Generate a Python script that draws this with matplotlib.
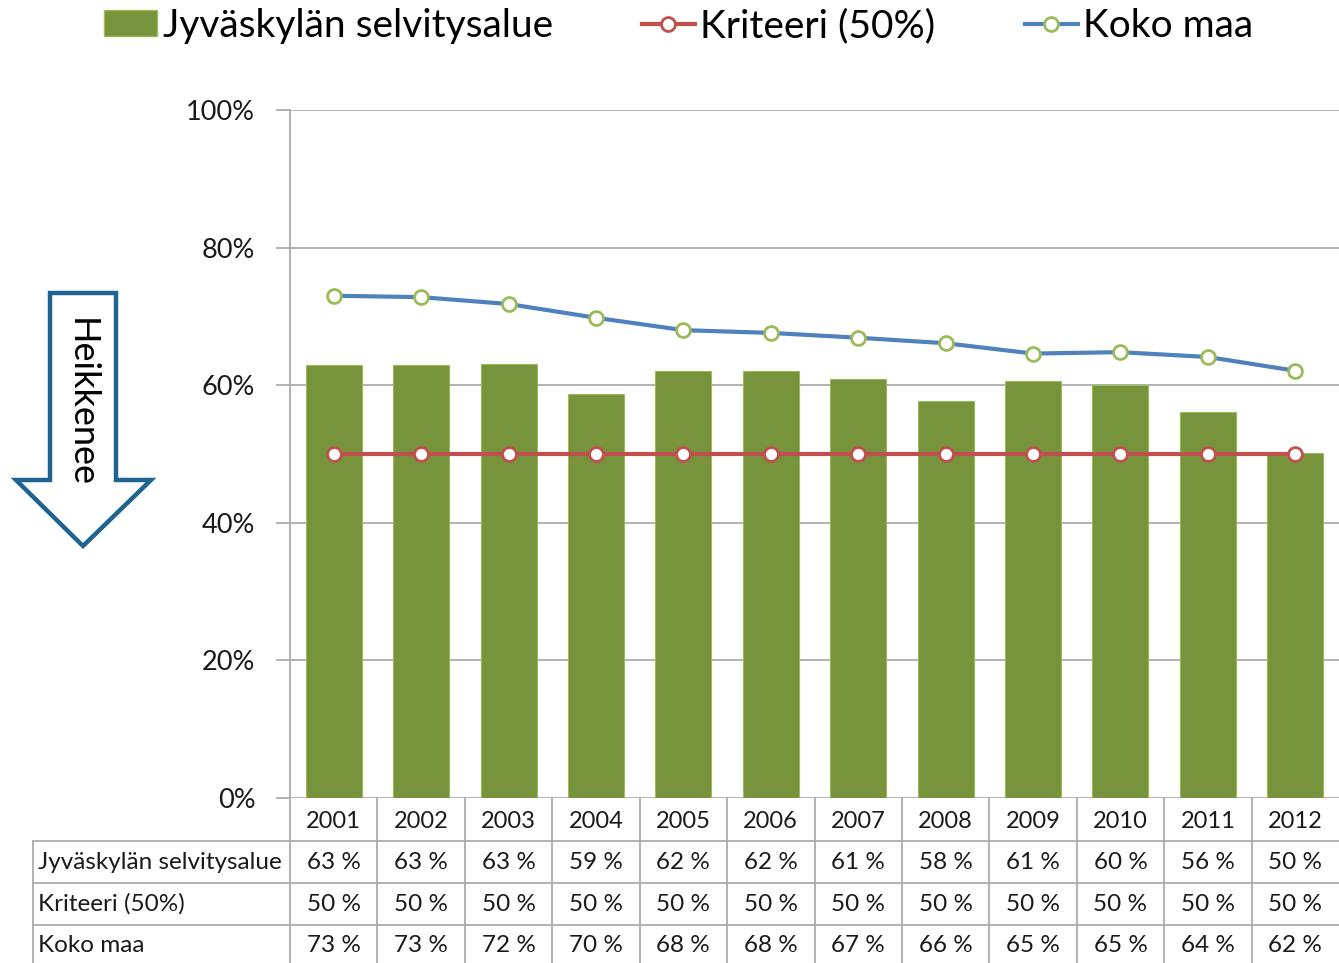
import matplotlib.pyplot as plt
import matplotlib
from matplotlib.patches import Polygon
from matplotlib.lines import Line2D
from matplotlib.transforms import blended_transform_factory
import numpy as np

matplotlib.rcParams['font.family'] = ['Lato', 'DejaVu Sans']

# data
years = ['2001', '2002', '2003', '2004', '2005', '2006',
         '2007', '2008', '2009', '2010', '2011', '2012']
jyvaskyla = [62.9, 62.9, 63.1, 58.7, 62.1, 62.1, 60.9, 57.7, 60.6, 60.0, 56.1, 50.1]
kriteeri = [50.0] * 12
koko_maa = [73.0, 72.8, 71.8, 69.8, 68.0, 67.6, 66.9, 66.1, 64.6, 64.8, 64.1, 62.1]
series_names = ['Jyväskylän selvitysalue', 'Kriteeri (50%)', 'Koko maa']

GREEN = '#77933C'
RED = '#C0504D'
BLUE = '#4F81BD'
LGREEN = '#9BBB59'
GRID = '#A6A6A6'
TXT = '#1a1a1a'

W, H = 1339, 963
fig = plt.figure(figsize=(W / 100, H / 100), dpi=100)
ax = fig.add_axes([290 / W, (H - 798) / H, (1339 - 290) / W, (798 - 110) / H])

x = np.arange(len(years))
ax.bar(x, jyvaskyla, width=0.64, color=GREEN, edgecolor=LGREEN, linewidth=0.8, zorder=2)
ax.plot(x, kriteeri, color=RED, lw=3, marker='o', ms=10, mfc='white', mec=RED, mew=2, zorder=3)
ax.plot(x, koko_maa, color=BLUE, lw=3, marker='o', ms=10, mfc='white', mec=LGREEN, mew=2, zorder=3)

ax.set_xlim(-0.5, len(years) - 0.5)
ax.set_ylim(0, 100)
ax.set_yticks(np.arange(0, 101, 20))
ax.set_yticklabels([f'{v}%' for v in range(0, 101, 20)], fontsize=19.5, color=TXT)
ax.tick_params(axis='y', length=10, color=GRID, width=1.2, pad=15)
ax.set_xticks([])
ax.grid(axis='y', color=GRID, lw=1.2, zorder=0)
ax.set_axisbelow(True)
for s in ['top', 'right', 'bottom']:
    ax.spines[s].set_visible(False)
ax.spines['left'].set_color(GRID)
ax.spines['left'].set_linewidth(1.2)

# data table under the chart
tr = blended_transform_factory(ax.transData, fig.transFigure)
fy = lambda p: (H - p) / H
left_x = 33 / W
for py in [841, 883, 925]:
    fig.add_artist(Line2D([left_x, 1.0], [fy(py)] * 2, color=GRID, lw=1.2))
fig.add_artist(Line2D([left_x, left_x], [fy(841), 0], color=GRID, lw=1.2))
fig.add_artist(Line2D([290 / W, 290 / W], [fy(798), 0], color=GRID, lw=1.2))
for i in range(1, len(years)):
    fig.add_artist(Line2D([i - 0.5, i - 0.5], [fy(798), 0], color=GRID, lw=1.2, transform=tr))

for i, yr in enumerate(years):
    fig.text(i, fy(821), yr, transform=tr, ha='center', va='center', fontsize=17, color=TXT)
rows = [jyvaskyla, kriteeri, koko_maa]
centers = [862, 904, 945]
for name, vals, cy in zip(series_names, rows, centers):
    fig.text(38 / W, fy(cy), name, ha='left', va='center', fontsize=17.5, color=TXT)
    for i, v in enumerate(vals):
        fig.text(i, fy(cy), f'{round(v)} %', transform=tr, ha='center', va='center',
                 fontsize=17.5, color=TXT)

# legend
handles = [
    plt.Rectangle((0, 0), 1, 1, facecolor=GREEN, edgecolor=LGREEN),
    Line2D([], [], color=RED, lw=3, marker='o', ms=10, mfc='white', mec=RED, mew=2),
    Line2D([], [], color=BLUE, lw=3, marker='o', ms=10, mfc='white', mec=LGREEN, mew=2),
]
fig.legend(handles, series_names, loc='center', bbox_to_anchor=(0.507, 1 - 26 / H), ncol=3,
           frameon=False, fontsize=28, handlelength=1.35, handletextpad=0.15,
           columnspacing=2.3, handleheight=0.65, borderpad=0)

# arrow "Heikkenee"
arrow_px = [(50, 293), (116, 293), (116, 480), (151, 480), (83, 546),
            (16, 480), (50, 480)]
arrow = Polygon([(px / W, fy(py)) for px, py in arrow_px], closed=True,
                transform=fig.transFigure, facecolor='white', edgecolor='#1F6391', lw=3.2)
fig.add_artist(arrow)
fig.text(81 / W, fy(403), 'Heikkenee', rotation=-90, ha='center', va='center',
         fontsize=26, color='black')

plt.savefig('out.png', dpi=100)
